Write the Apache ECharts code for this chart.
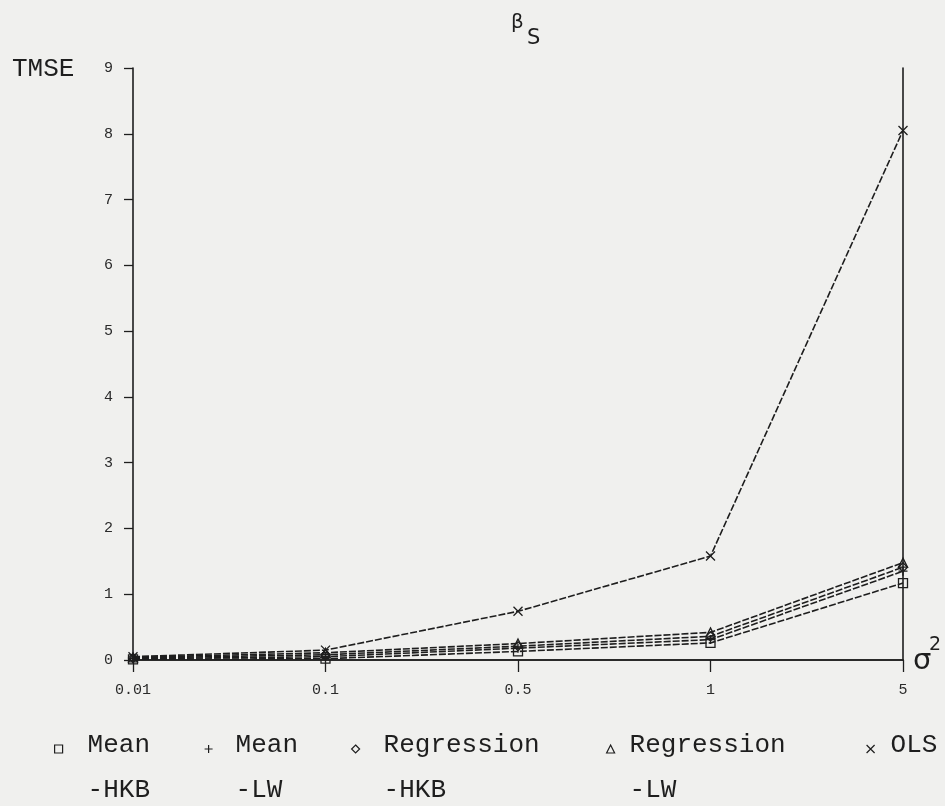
<!DOCTYPE html>
<html>
<head>
<meta charset="utf-8">
<script src="https://cdn.jsdelivr.net/npm/echarts@6/dist/echarts.min.js"></script>
<style>
html,body{margin:0;padding:0;background:#f0f0ee;}
#c{width:945px;height:806px;}
</style>
</head>
<body>
<div id="c"></div>
<script>
// ---- data ----
var categories = ['0.01', '0.1', '0.5', '1', '5'];
var meanHKB = [0.01, 0.02, 0.13, 0.26, 1.17];
var meanLW  = [0.02, 0.05, 0.18, 0.31, 1.35];
var regHKB  = [0.03, 0.08, 0.21, 0.36, 1.41];
var regLW   = [0.04, 0.11, 0.25, 0.42, 1.48];
var ols     = [0.05, 0.15, 0.74, 1.58, 8.05];
var yTicks  = [0, 1, 2, 3, 4, 5, 6, 7, 8, 9];
var seriesNames = ['Mean-HKB', 'Mean-LW', 'Regression-HKB', 'Regression-LW', 'OLS'];

var INK = '#1e1e1e';
var MONO = '"Liberation Mono", "DejaVu Sans Mono", monospace';
var PLUS = 'path://M5 0 L5 10 M0 5 L10 5';
var CROSS = 'path://M0 0 L10 10 M10 0 L0 10';
var symbols = ['rect', PLUS, 'diamond', 'triangle', CROSS];
var values = [meanHKB, meanLW, regHKB, regLW, ols];

var series = seriesNames.map(function (n, i) {
  return {
    name: n,
    type: 'line',
    xAxisIndex: 0, yAxisIndex: 0,
    data: values[i],
    symbol: symbols[i],
    symbolSize: 9,
    showAllSymbol: true,
    lineStyle: { color: INK, width: 1.6, type: [7, 2] },
    itemStyle: { color: 'transparent', borderColor: INK, borderWidth: 1.3 },
    emphasis: { disabled: true },
    animation: false
  };
});

// legend layout (icon center x, text offset)
var legendPos = [
  { x: 58, pad: 20 },
  { x: 208, pad: 18 },
  { x: 355, pad: 19 },
  { x: 610, pad: 10 },
  { x: 870, pad: 11 }
];
var legends = seriesNames.map(function (n, i) {
  var p = legendPos[i].pad;
  return {
    left: legendPos[i].x - 4,
    top: 691,
    padding: 0,
    itemWidth: 8,
    itemHeight: 8,
    selectedMode: false,
    data: [{ name: n, icon: symbols[i] }],
    itemStyle: { color: 'transparent', borderColor: INK, borderWidth: 1.2 },
    formatter: function (name) {
      var parts = name.split('-');
      var l2 = parts.length > 1 ? '-' + parts[1] : ' ';
      return '{e| }\n{a|' + parts[0] + '}\n{a|' + l2 + '}';
    },
    textStyle: {
      color: INK,
      fontFamily: MONO,
      fontSize: 26,
      rich: {
        e: { lineHeight: 37, fontSize: 26, fontFamily: MONO, padding: [0, 0, 0, p] },
        a: { lineHeight: 45, fontSize: 26, fontFamily: MONO, color: INK, padding: [0, 0, 0, p] }
      }
    }
  };
});

var chart = echarts.init(document.getElementById('c'), null, { renderer: 'canvas' });
chart.setOption({
  backgroundColor: '#f0f0ee',
  animation: false,
  grid: { left: 133, right: 42, top: 68, bottom: 146, containLabel: false },
  legend: legends,
  xAxis: [{
    type: 'category',
    data: categories,
    boundaryGap: false,
    position: 'bottom',
    axisLine: { show: true, lineStyle: { color: INK, width: 1.6 } },
    axisTick: { show: true, alignWithLabel: true, length: 12, lineStyle: { color: INK, width: 1.3 } },
    axisLabel: { margin: 23, color: '#2a2a2a', fontFamily: MONO, fontSize: 15 },
    splitLine: { show: false }
  }, {
    type: 'category',
    data: categories,
    boundaryGap: false,
    position: 'top',
    axisLine: { show: true, lineStyle: { color: INK, width: 1.6 } },
    axisTick: { show: false },
    axisLabel: { show: false },
    splitLine: { show: false }
  }],
  yAxis: [{
    type: 'value',
    min: yTicks[0],
    max: yTicks[yTicks.length - 1],
    interval: 1,
    position: 'left',
    axisLine: { show: true, lineStyle: { color: INK, width: 1.6 } },
    axisTick: { show: true, length: 9, lineStyle: { color: INK, width: 1.3 } },
    axisLabel: { margin: 20, color: '#2a2a2a', fontFamily: MONO, fontSize: 15 },
    splitLine: { show: false }
  }, {
    type: 'value',
    min: yTicks[0],
    max: yTicks[yTicks.length - 1],
    interval: 1,
    position: 'right',
    axisLine: { show: true, lineStyle: { color: INK, width: 1.6 } },
    axisTick: { show: false },
    axisLabel: { show: false },
    splitLine: { show: false }
  }],
  graphic: [
    { type: 'text', left: 12, top: 56, style: { text: 'TMSE', fill: INK, font: '26px ' + MONO } },
    { type: 'text', x: 511, y: 23, style: { text: '\u03B2', fill: INK, font: '20px "DejaVu Sans"', textVerticalAlign: 'middle' } },
    { type: 'text', x: 527, y: 39, style: { text: 'S', fill: INK, font: '21px "DejaVu Sans"', textVerticalAlign: 'middle' } },
    { type: 'text', x: 913, y: 661, style: { text: '\u03C3', fill: INK, font: '29px "DejaVu Sans"', textVerticalAlign: 'middle' } },
    { type: 'text', x: 929, y: 645, style: { text: '2', fill: INK, font: '19px "DejaVu Sans"', textVerticalAlign: 'middle' } }
  ],
  series: series
});
</script>
</body>
</html>
